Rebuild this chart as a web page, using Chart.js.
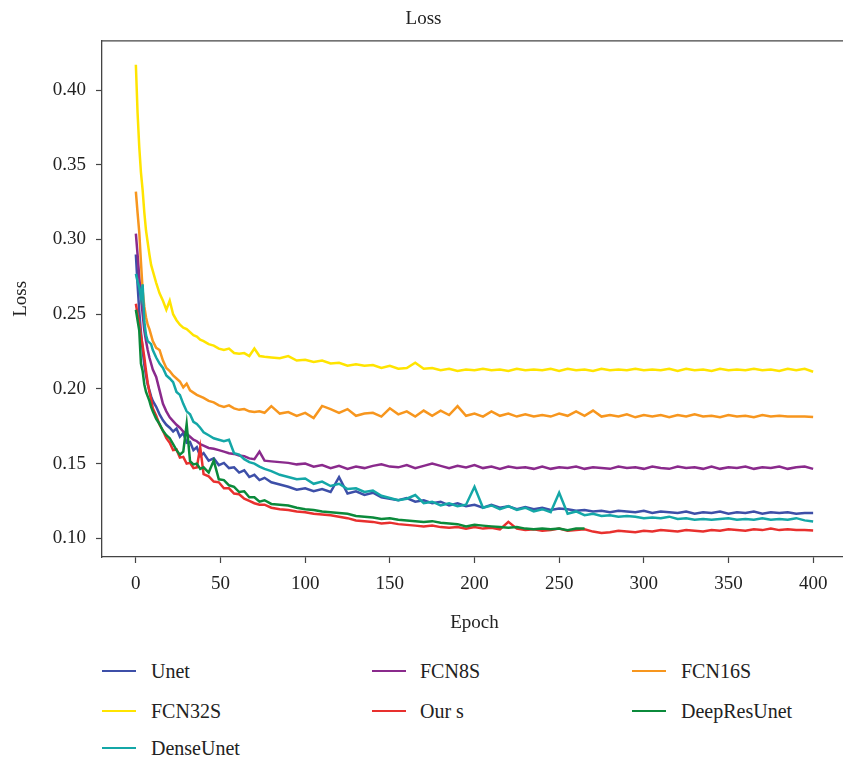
<!DOCTYPE html>
<html>
<head>
<meta charset="utf-8">
<script src="https://cdn.jsdelivr.net/npm/chart.js@4.4.1/dist/chart.umd.min.js"></script>
<style>
  html, body { margin: 0; padding: 0; background: #fff; overflow: hidden; }
  #wrap { position: relative; width: 843px; height: 760px; overflow: hidden; }
  #grafica { position: absolute; left: 0; top: 0; }
  .item { position: absolute; font-family: "Liberation Serif", "DejaVu Serif", serif; font-size: 20px; color: #222; line-height: 20px; white-space: nowrap; }
  .muestra { position: absolute; height: 2px; width: 34px; }
</style>
</head>
<body>
<div id="wrap">
  <canvas id="grafica" width="860" height="650"></canvas>
  <div id="leyenda"></div>
</div>
<script>
// Epocas muestreadas (mas densas al principio)
const epochs = [0,1,2,3,4,5,6,7,8,9,10,12,14,16,18,20,22,24,26,28,30,32,34,36,38,40,43,46,49,52,55,58,61,64,67,70,73,76,80,
  85,90,95,100,105,110,115,120,125,130,135,140,145,150,155,160,165,170,175,180,185,190,195,200,205,210,215,220,225,230,235,240,245,250,
  255,260,265,270,275,280,285,290,295,300,305,310,315,320,325,330,335,340,345,350,355,360,365,370,375,380,385,390,395,400];

const unet = [.290,.270,.252,.238,.226,.216,.209,.203,.199,.195,.192,.188,.183,.179,.176,.174,.1715,.1735,.168,.1705,.164,.1645,.159,.161,.155,.157,.152,.1535,.149,.1505,.147,.1475,.144,.1455,.141,.1425,.139,.1405,.1375,
  .136,.1345,.1325,.1335,.1315,.133,.131,.141,.130,.1315,.129,.1305,.1275,.1265,.1255,.127,.1245,.1255,.1235,.1245,.122,.1235,.1215,.1225,.1205,.1225,.1205,.1215,.1195,.121,.1195,.1205,.119,.120,
  .1195,.1185,.119,.118,.1185,.1175,.1185,.118,.1175,.1185,.117,.118,.1175,.117,.118,.1165,.1175,.117,.118,.1165,.1175,.117,.118,.1165,.1175,.117,.1175,.1165,.117,.117];

const fcn8s = [.304,.290,.275,.262,.250,.239,.232,.226,.221,.217,.213,.208,.199,.190,.185,.181,.1785,.176,.174,.1715,.170,.168,.166,.165,.163,.162,.1605,.160,.159,.158,.157,.1565,.1555,.155,.1535,.153,.158,.152,.1515,
  .151,.1505,.1495,.150,.148,.149,.147,.1485,.1465,.148,.147,.1485,.1495,.148,.1475,.149,.147,.1485,.150,.1485,.147,.1485,.1475,.149,.147,.148,.1465,.148,.147,.1475,.1465,.148,.1465,.1475,
  .147,.148,.1465,.1475,.147,.1465,.148,.147,.1475,.1465,.148,.147,.1465,.148,.147,.1475,.1465,.148,.1465,.1475,.147,.148,.1465,.1475,.147,.148,.1465,.1475,.148,.1465];

const fcn16s = [.332,.318,.305,.285,.266,.255,.248,.243,.240,.236,.232,.2275,.226,.219,.214,.212,.209,.207,.205,.201,.2035,.199,.1975,.196,.195,.194,.192,.191,.189,.188,.189,.187,.186,.1865,.185,.1845,.185,.184,.1885,
  .1835,.1845,.182,.184,.1805,.1886,.1865,.184,.1865,.182,.1835,.184,.1815,.187,.183,.185,.1815,.1855,.182,.1855,.1825,.1885,.182,.1835,.1815,.185,.182,.1835,.1815,.183,.1815,.1825,.1815,.1835,
  .182,.185,.182,.1855,.1815,.1825,.1815,.183,.181,.1825,.1815,.1825,.181,.1825,.1815,.183,.1815,.182,.181,.1825,.1815,.182,.181,.1825,.1815,.182,.1815,.1815,.1815,.1812];

const fcn32s = [.417,.385,.362,.345,.333,.318,.306,.298,.290,.283,.279,.271,.264,.259,.253,.259,.250,.246,.243,.241,.240,.238,.236,.235,.233,.232,.230,.229,.227,.226,.227,.224,.2235,.224,.222,.227,.222,.2215,.221,
  .2205,.222,.219,.2195,.218,.219,.217,.2175,.2155,.2165,.2155,.216,.214,.2155,.2135,.214,.2175,.2135,.214,.2125,.2135,.212,.213,.2125,.2135,.2125,.213,.212,.2135,.2125,.213,.2125,.2135,.212,
  .2135,.2125,.213,.212,.2135,.2125,.213,.2125,.2135,.2125,.213,.2125,.2135,.212,.2135,.2125,.213,.212,.2135,.2125,.213,.2125,.2135,.2125,.213,.212,.2135,.2125,.2135,.2115];

const ours = [.257,.250,.244,.236,.229,.221,.212,.204,.198,.193,.187,.182,.176,.172,.167,.164,.159,.1595,.154,.1545,.150,.1505,.147,.1475,.161,.143,.1415,.138,.1375,.1335,.1335,.130,.1295,.1265,.125,.1235,.1225,.1225,.1205,
  .1195,.119,.118,.1175,.1165,.116,.1155,.1145,.1135,.112,.1115,.111,.110,.1105,.1095,.109,.1085,.108,.1085,.1075,.107,.1075,.1065,.1075,.1065,.107,.106,.111,.1065,.1055,.106,.105,.1055,.1065,
  .105,.1055,.106,.1045,.1035,.104,.105,.1045,.104,.105,.1045,.1055,.105,.1045,.1055,.105,.1045,.1055,.105,.106,.1055,.105,.106,.1055,.1065,.1055,.106,.1055,.1055,.1052];

// DeepResUnet termina hacia la epoca 265
const deepResUnet = [.253,.246,.239,.217,.212,.203,.198,.195,.192,.188,.185,.180,.1765,.172,.169,.167,.163,.159,.156,.158,.1765,.1517,.1495,.150,.1465,.1475,.144,.152,.1395,.139,.1355,.1345,.131,.1315,.1275,.1275,.1245,.1255,.123,
  .1225,.122,.1205,.1195,.119,.118,.1175,.117,.1165,.115,.1145,.114,.113,.1135,.1125,.112,.1115,.111,.1115,.1105,.110,.1095,.108,.109,.1085,.108,.1075,.107,.1075,.1065,.106,.1065,.106,.1065,
  .1055,.1065,.1065];

const denseUnet = [.277,.272,.268,.261,.270,.245,.236,.232,.231,.230,.226,.221,.217,.214,.209,.207,.2045,.198,.196,.190,.185,.183,.178,.1765,.174,.171,.169,.167,.166,.165,.166,.157,.156,.153,.151,.150,.148,.1465,.145,
  .1425,.141,.1395,.140,.1365,.138,.135,.1365,.133,.1335,.131,.132,.1285,.127,.1255,.1265,.129,.1235,.1245,.122,.1235,.1215,.1225,.1345,.1205,.122,.1195,.1215,.119,.1205,.118,.1195,.1175,.1305,
  .1165,.118,.1155,.1165,.115,.1155,.1145,.115,.1145,.1135,.114,.1135,.1145,.113,.1135,.1125,.113,.1125,.113,.1135,.1125,.113,.1125,.1135,.1125,.113,.1125,.1135,.112,.1112];

const nombres = ['Unet', 'FCN8S', 'FCN16S', 'FCN32S', 'Our s', 'DeepResUnet', 'DenseUnet'];
const valores = [unet, fcn8s, fcn16s, fcn32s, ours, deepResUnet, denseUnet];
const colores = ['#3d4fa8', '#8a2a8c', '#f7961e', '#ffe400', '#e8302e', '#0b8a3b', '#14a7a7'];

const yTicks = [0.10, 0.15, 0.20, 0.25, 0.30, 0.35, 0.40];
const xTicks = [0, 50, 100, 150, 200, 250, 300, 350, 400];

const fuente = 'Liberation Serif';

// Construye los datasets (orden de dibujo como en matplotlib: el ultimo encima)
const datasets = valores.map((serie, i) => ({
  label: nombres[i],
  data: serie.map((v, j) => ({ x: epochs[j], y: v })),
  borderColor: colores[i],
  backgroundColor: colores[i],
  borderWidth: 2.5,
  pointRadius: 0,
  tension: 0,
  fill: false,
  order: valores.length - i
}));

// Marco superior del area del grafico
const marco = {
  id: 'marco',
  afterDraw(chart) {
    const { ctx, chartArea } = chart;
    ctx.save();
    ctx.strokeStyle = '#444';
    ctx.lineWidth = 1.3;
    ctx.beginPath();
    ctx.moveTo(chartArea.left, chartArea.top);
    ctx.lineTo(chartArea.right, chartArea.top);
    ctx.stroke();
    ctx.restore();
  }
};

const ejeComun = {
  border: { display: true, color: '#444', width: 1.3 },
  grid: { display: true, drawOnChartArea: false, drawTicks: true, tickLength: 6, color: '#444', tickWidth: 1.2 }
};

new Chart(document.getElementById('grafica').getContext('2d'), {
  type: 'line',
  data: { datasets },
  options: {
    responsive: false,
    animation: false,
    layout: { padding: { left: 0, right: 13, top: 0, bottom: 0 } },
    plugins: {
      legend: { display: false },
      tooltip: { enabled: false },
      title: {
        display: true,
        text: 'Loss',
        color: '#222',
        font: { family: fuente, size: 19, weight: 'normal' },
        padding: { top: 8, bottom: 10 }
      }
    },
    scales: {
      x: {
        ...ejeComun,
        type: 'linear',
        min: -20,
        max: 420,
        afterFit: s => { s.height = 650 - 557; },
        afterBuildTicks: s => { s.ticks = xTicks.map(v => ({ value: v })); },
        ticks: { color: '#222', padding: 10, font: { family: fuente, size: 19 } },
        title: { display: true, text: 'Epoch', color: '#222', font: { family: fuente, size: 19 }, padding: { top: 0, bottom: 16 } }
      },
      y: {
        ...ejeComun,
        type: 'linear',
        min: 0.0875,
        max: 0.433,
        afterFit: s => { s.width = 102; },
        afterBuildTicks: s => { s.ticks = yTicks.map(v => ({ value: v })); },
        ticks: { color: '#222', padding: 10, font: { family: fuente, size: 19 }, callback: v => v.toFixed(2) },
        title: { display: true, text: 'Loss', color: '#222', font: { family: fuente, size: 19 }, padding: { top: 10, bottom: 0 } }
      }
    }
  },
  plugins: [marco]
});

// Leyenda en tres columnas bajo el grafico
const leyenda = document.getElementById('leyenda');
const colLinea = [102, 372, 632];
const colTexto = [151, 420, 681];
const filaY = [671, 711, 748];
nombres.forEach((nombre, i) => {
  const c = i % 3, f = Math.floor(i / 3);
  const linea = document.createElement('div');
  linea.className = 'muestra';
  linea.style.left = colLinea[c] + 'px';
  linea.style.top = (filaY[f] - 1) + 'px';
  linea.style.background = colores[i];
  const texto = document.createElement('div');
  texto.className = 'item';
  texto.style.left = colTexto[c] + 'px';
  texto.style.top = (filaY[f] - 10) + 'px';
  texto.textContent = nombre;
  leyenda.appendChild(linea);
  leyenda.appendChild(texto);
});
</script>
</body>
</html>
